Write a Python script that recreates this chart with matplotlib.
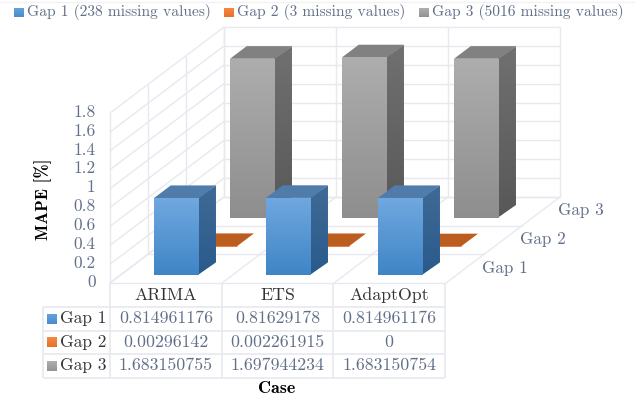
import matplotlib.pyplot as plt
import numpy as np
from matplotlib.colors import LinearSegmentedColormap
from matplotlib.patches import Polygon

cases = ["ARIMA", "ETS", "AdaptOpt"]
series = ["Gap 1", "Gap 2", "Gap 3"]
legend_labels = ["Gap 1 (238 missing values)", "Gap 2 (3 missing values)", "Gap 3 (5016 missing values)"]
gap1 = [0.814961176, 0.81629178, 0.814961176]
gap2 = [0.00296142, 0.002261915, 0]
gap3 = [1.683150755, 1.697944234, 1.683150754]
cell_text = [
    ["0.814961176", "0.81629178", "0.814961176"],
    ["0.00296142", "0.002261915", "0"],
    ["1.683150755", "1.697944234", "1.683150754"],
]
z_ticks = [0, 0.2, 0.4, 0.6, 0.8, 1, 1.2, 1.4, 1.6, 1.8]

# front, side, top colours, first two as (upper, lower)
styles = [
    (("#70a8e0", "#3f85c6"), ("#3f6a96", "#2a5a8c"), "#4f7cab"),
    (("#f08038", "#e06c24"), ("#a85218", "#a85218"), "#bc5c1e"),
    (("#adadad", "#8e8e8e"), ("#707070", "#585858"), "#818181"),
]
key_colors = [("#62a2e0", "#4a8ccb"), ("#f58a42", "#e8702a"), ("#b0b0b0", "#929292")]

GRID = "#e7e9f0"
TEXT = "#627089"
DARK = "#333333"
plt.rcParams["font.family"] = ["cmr10", "DejaVu Sans"]
plt.rcParams["axes.unicode_minus"] = False

fig = plt.figure(figsize=(6.35, 4.03), dpi=100)
ax = fig.add_axes([0, 0, 1, 1])

# oblique projection: x in categories, d in series slots, z in MAPE
X0, Y0 = 110, 283
CAT_W = 112
DX, DY = 38, -28.67
Z_PX = 94.4
TABLE_W = 111.67


def proj(x, d, z=0):
    return X0 + x * CAT_W + d * DX, Y0 + d * DY - z * Z_PX


def line(a, b, color=GRID, lw=1.0, zo=1):
    ax.plot([a[0], b[0]], [a[1], b[1]], color=color, lw=lw, zorder=zo, solid_capstyle="butt")


def shade(points, upper, lower, zo):
    # vertical gradient clipped to a polygon
    pts = np.array(points)
    cmap = LinearSegmentedColormap.from_list("g", [upper, lower])
    im = ax.imshow(np.linspace(0, 1, 64).reshape(-1, 1), cmap=cmap, aspect="auto", zorder=zo,
                   extent=[pts[:, 0].min(), pts[:, 0].max(), pts[:, 1].max(), pts[:, 1].min()],
                   interpolation="bilinear")
    poly = Polygon(pts, closed=True, transform=ax.transData, fc="none", ec="none")
    ax.add_patch(poly)
    im.set_clip_path(poly)


n_cat, n_ser = len(cases), len(series)
z_max = z_ticks[-1]

# walls and floor
for z in z_ticks:
    line(proj(0, 0, z), proj(0, n_ser, z))
    line(proj(0, n_ser, z), proj(n_cat, n_ser, z))
for d in range(n_ser + 1):
    line(proj(0, d), proj(0, d, z_max))
    line(proj(0, d), proj(n_cat, d))
for c in range(n_cat + 1):
    line(proj(c, 0), proj(c, n_ser))
    line(proj(c, n_ser), proj(c, n_ser, z_max))

# bars, from the back row forward
BAR_X = 0.298
BAR_D = 0.28
SIDE_LAP = 0.012  # side face runs under the front face so no seam opens
values = [gap1, gap2, gap3]
zo = 3
for s in range(n_ser - 1, -1, -1):
    front, side, top = styles[s]
    for c in range(n_cat):
        v = values[s][c]
        x0, x1 = c + BAR_X, c + 1 - BAR_X
        d0, d1 = s + BAR_D, s + 1 - BAR_D
        # a near zero bar has no visible faces, only its lid and a thin edge
        tall = v * Z_PX >= 1
        if tall:
            shade([proj(x1 - SIDE_LAP, d0), proj(x1, d1), proj(x1, d1, v), proj(x1 - SIDE_LAP, d0, v)],
                  side[0], side[1], zo)
        ax.add_patch(Polygon([proj(x0, d0, v), proj(x1, d0, v), proj(x1, d1, v), proj(x0, d1, v)],
                             closed=True, fc=top, ec="none", zorder=zo + 0.1))
        if tall:
            shade([proj(x0, d0), proj(x1, d0), proj(x1, d0, v), proj(x0, d0, v)], front[0], front[1], zo + 0.2)
        else:
            line(proj(x0, d0, v), proj(x1, d0, v), color=front[1], lw=0.6, zo=zo + 0.2)
        zo += 1

# axis texts
for z in z_ticks:
    ax.text(95.5, proj(0, 0, z)[1] - 1, f"{z:g}", ha="right", va="center", fontsize=12.5, color=TEXT)
for s, name in enumerate(series):
    px, py = proj(n_cat, s + 0.5)
    ax.text(px + 17, py - 0.5, name, ha="left", va="center", fontsize=12.3, color=TEXT)
ax.text(43, 199, "MAPE [%]", rotation=90, ha="center", va="center", fontsize=12.3, color="black", family="cmb10")
ax.text(277, 388.5, "Case", ha="center", va="center", fontsize=13, color="black", family="cmb10")

# data table under the plot
ROW_H = 23.6
HEAD_Y = Y0 + 24
KEY_X = 42.5
rows_y = [HEAD_Y + i * ROW_H for i in range(n_ser + 1)]
for c in range(n_cat + 1):
    xc = X0 + c * TABLE_W
    line((xc, Y0), (xc, rows_y[-1]), lw=1.2)
for y in rows_y:
    line((KEY_X, y), (X0 + n_cat * TABLE_W, y), lw=1.2)
line((KEY_X, HEAD_Y), (KEY_X, rows_y[-1]), lw=1.2)
for c, name in enumerate(cases):
    ax.text(X0 + (c + 0.5) * TABLE_W, (Y0 + HEAD_Y) / 2 + 0.5, name, ha="center", va="center", fontsize=12.8, color=DARK)
for s, name in enumerate(series):
    yc = rows_y[s] + ROW_H / 2
    shade([(47.3, yc - 5), (57.3, yc - 5), (57.3, yc + 5), (47.3, yc + 5)], *key_colors[s], 30)
    ax.text(60, yc - 0.5, name, ha="left", va="center", fontsize=12.5, color=DARK)
    for c in range(n_cat):
        ax.text(X0 + (c + 0.5) * TABLE_W, yc - 0.5, cell_text[s][c], ha="center", va="center", fontsize=12.8, color=TEXT)

# legend row
legend_x = [14, 224, 419]
for i, name in enumerate(legend_labels):
    shade([(legend_x[i], 8), (legend_x[i] + 10, 8), (legend_x[i] + 10, 17), (legend_x[i], 17)], *key_colors[i], 30)
    ax.text(legend_x[i] + 13, 12.5, name, ha="left", va="center", fontsize=11.2, color=TEXT)
line((0, 2), (635, 2), color="#f2f2f2")

ax.set_xlim(0, 635)
ax.set_ylim(403, 0)
ax.axis("off")
fig.savefig("out.png", dpi=100)
